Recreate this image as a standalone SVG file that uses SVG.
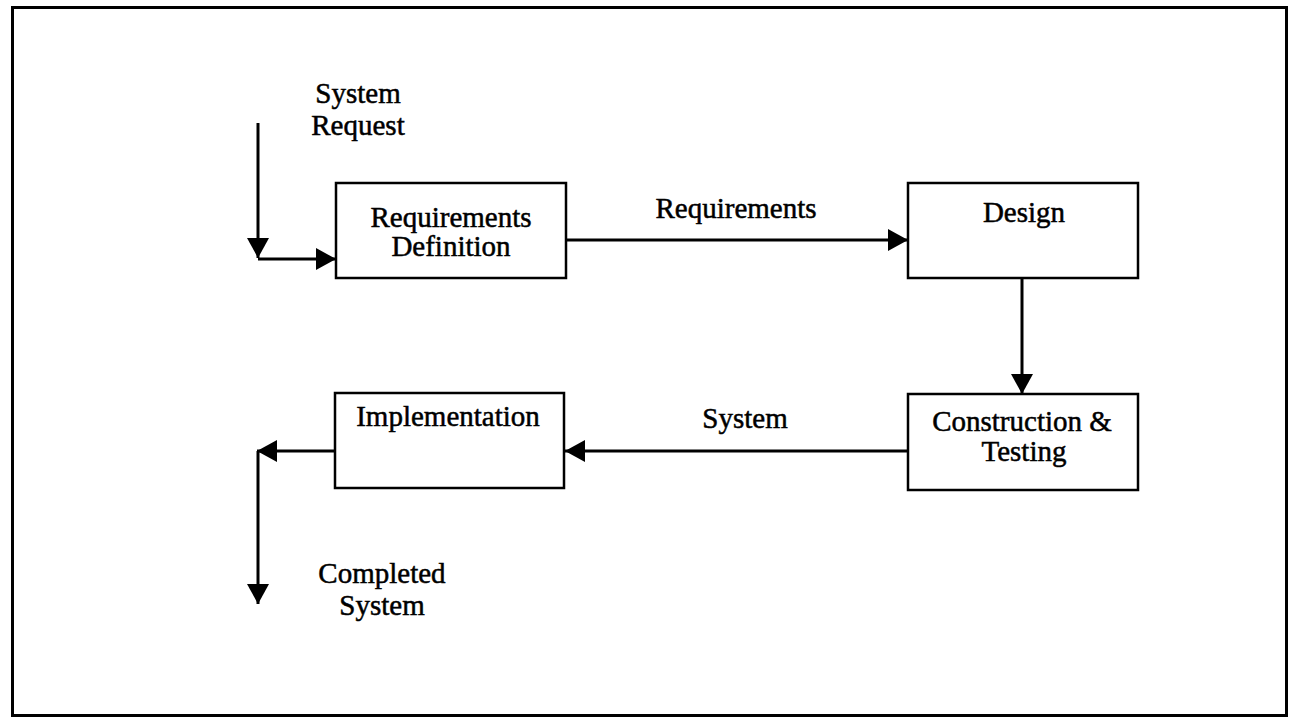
<svg xmlns="http://www.w3.org/2000/svg" width="1295" height="718" viewBox="0 0 1295 718">
<style>
.box{fill:#fff;stroke:#000;stroke-width:2.5}
.ln{fill:none;stroke:#000;stroke-width:3}
text{font-family:"Liberation Serif","Times New Roman",serif;font-size:29px;fill:#000;text-anchor:middle;stroke:#000;stroke-width:0.5}
</style>
<defs>
<marker id="ah" markerUnits="userSpaceOnUse" markerWidth="22" markerHeight="22" refX="20" refY="11" orient="auto" viewBox="0 0 22 22">
<path d="M0,0 L20,11 L0,22 Z" fill="#000"/>
</marker>
</defs>
<rect x="12.5" y="7.5" width="1274" height="708" fill="#fff" stroke="#000" stroke-width="3"/>
<g id="connectors">
<path class="ln" d="M258,123 V258" marker-end="url(#ah)"/>
<path class="ln" d="M258,259 H336" marker-end="url(#ah)"/>
<path class="ln" d="M566,240 H908" marker-end="url(#ah)"/>
<path class="ln" d="M1022,279 V394" marker-end="url(#ah)"/>
<path class="ln" d="M908,451 H565" marker-end="url(#ah)"/>
<path class="ln" d="M335,451 H257" marker-end="url(#ah)"/>
<path class="ln" d="M258,451 V604" marker-end="url(#ah)"/>
</g>
<g id="label-system-request">
<text x="358" y="103">System</text>
<text x="358" y="135">Request</text>
</g>
<g id="node-requirements-definition">
<rect class="box" x="336" y="183" width="230" height="95"/>
<text x="451" y="227">Requirements</text>
<text x="451" y="256">Definition</text>
</g>
<g id="label-requirements">
<text x="736" y="218">Requirements</text>
</g>
<g id="node-design">
<rect class="box" x="908" y="183" width="230" height="95"/>
<text x="1024" y="222">Design</text>
</g>
<g id="node-construction-testing">
<rect class="box" x="908" y="394" width="230" height="96"/>
<text x="1022" y="431">Construction &amp;</text>
<text x="1024" y="461">Testing</text>
</g>
<g id="label-system">
<text x="745" y="428">System</text>
</g>
<g id="node-implementation">
<rect class="box" x="335" y="393" width="229" height="95"/>
<text x="448" y="426">Implementation</text>
</g>
<g id="label-completed-system">
<text x="382" y="583">Completed</text>
<text x="382" y="615">System</text>
</g>
</svg>
